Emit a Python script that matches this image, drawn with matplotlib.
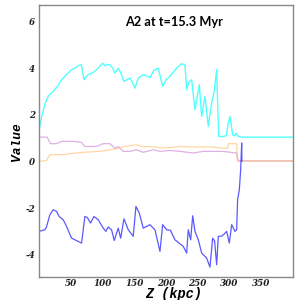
import matplotlib
matplotlib.use("Agg")
import matplotlib.pyplot as plt

# cyan series
cyan_x = [0, 5, 10, 14.7, 17, 22.5, 30, 35.7, 43.6, 51.5, 57, 62, 67, 70.9, 74, 77.6, 85.5, 93.4, 100.3,
          104, 106.6, 111.8, 116, 119.7, 124.9, 129, 133.9, 143.3, 147, 151.2, 156.4, 164.3, 174.8,
          181, 187.9, 194.8, 200, 206.3, 216.8, 224.7, 230, 232.6, 236, 240.5, 245.7, 252.5, 256.2,
          261.4, 266.6, 271.9, 276, 279.8, 283, 290, 295, 298, 300.8, 305, 308, 310.2, 313.9, 320, 400]
cyan_y = [1.29, 2.0, 2.5, 2.79, 2.86, 3.0, 3.25, 3.5, 3.72, 3.93, 4.0, 4.11, 4.14, 3.5, 3.62, 3.72, 3.81,
          4.0, 4.21, 4.1, 4.14, 4.14, 4.0, 3.79, 4.0, 3.8, 3.43, 3.57, 3.4, 3.14, 3.57, 3.72, 3.6,
          3.9, 4.0, 3.21, 3.5, 3.64, 4.0, 4.19, 4.14, 3.07, 3.4, 3.5, 2.21, 3.29, 1.93,
          2.79, 1.5, 2.5, 3.0, 3.93, 1.07, 1.07, 1.1, 1.64, 1.93, 1.14, 1.1, 1.21, 1.07, 1.04, 1.04]

# pink series
pink_x = [0, 13, 18.4, 27.8, 35.7, 54, 67, 72.4, 90.8, 101.3, 111.8, 119.7, 124.9, 132.8, 143.3,
          153.9, 164.3, 180, 190.6, 206.3, 222, 243, 258.7, 290, 311.3, 312.3, 313.9, 400]
pink_y = [1.04, 1.04, 0.76, 0.76, 0.86, 0.86, 0.81, 0.64, 0.64, 0.76, 0.76, 0.57, 0.64, 0.43, 0.43,
          0.5, 0.39, 0.5, 0.43, 0.47, 0.43, 0.36, 0.43, 0.43, 0.36, 0.2, 0.02, 0.02]

# orange series
orange_x = [0, 12, 17.3, 38.3, 55, 69.8, 90, 106.6, 127.6, 135.4, 153.9, 164.3, 174.8, 195.8, 222, 243,
            269, 290, 297, 298, 311.3, 312.3, 400]
orange_y = [0.0, 0.04, 0.29, 0.29, 0.35, 0.39, 0.42, 0.47, 0.57, 0.64, 0.71, 0.62, 0.64, 0.57, 0.64, 0.62,
            0.62, 0.57, 0.57, 0.76, 0.76, 0.02, 0.02]

# blue series
blue_x = [0, 9.4, 12, 17.3, 22.5, 27.8, 31.9, 38.3, 43.6, 51.5, 67.2, 72.4, 76, 81.4, 86.6, 93.4, 101.3,
          105.5, 109.1, 114.4, 118.6, 122.3, 124.9, 128.7, 133.9, 140.7, 148.5, 152.8, 158, 164.3, 174.8,
          182.7, 190.6, 194.8, 201.1, 207, 214.2, 227.2, 232.6, 235.1, 238.9, 242.1, 245.7, 250.9,
          256.2, 264, 269.3, 273.5, 276.5, 279.8, 282.4, 288, 292, 295.6, 299.7, 303.5, 308.7, 311.3,
          312.8, 315.5, 317.6, 319.2, 319.6]
blue_y = [-3.0, -2.93, -2.81, -2.29, -2.07, -2.14, -2.36, -2.5, -2.79, -3.29, -3.5, -2.36, -2.4, -2.64,
          -2.36, -2.5, -2.86, -3.0, -2.81, -2.93, -3.39, -3.07, -2.86, -3.29, -2.46, -2.93, -3.21, -1.93,
          -2.21, -2.86, -2.71, -2.93, -3.86, -2.71, -2.93, -2.95, -3.36, -3.64, -3.93, -2.93, -3.36,
          -2.33, -3.0, -3.36, -3.93, -4.14, -4.53, -3.29, -3.4, -4.43, -3.21, -3.2, -3.1, -3.0, -3.5,
          -2.71, -3.0, -2.93, -1.64, -1.21, -0.36, 0.79, 0.02]

xticks = [50, 100, 150, 200, 250, 300, 350]
yticks = [-4, -2, 0, 2, 4, 6]

fig = plt.figure(figsize=(2.99, 3.0), dpi=100)
ax = fig.add_axes([0.130, 0.077, 0.850, 0.906])

ax.plot(cyan_x, cyan_y, color="#33ffff", lw=1.0, alpha=0.85)
ax.plot(pink_x, pink_y, color="#c77fcf", lw=0.9, alpha=0.6)
ax.plot(orange_x, orange_y, color="#ffbb66", lw=0.9, alpha=0.6)
ax.plot(blue_x, blue_y, color="#2222ff", lw=0.9, alpha=0.75)

ax.set_xlim(0, 400)
ax.set_ylim(-4.95, 6.7)
ax.set_xticks(xticks)
ax.set_yticks(yticks)
ax.set_xticklabels([str(v) for v in xticks])
ax.set_yticklabels([str(v) for v in yticks])
ax.tick_params(axis="x", length=0, pad=1.5)
ax.tick_params(axis="y", length=0, pad=2.5)
for lab in ax.get_xticklabels() + ax.get_yticklabels():
    lab.set_family("DejaVu Serif")
    lab.set_fontweight("bold")
    lab.set_fontstyle("italic")
    lab.set_fontsize(6.3)
    lab.set_color("#222222")
for s in ax.spines.values():
    s.set_color("#888888")
    s.set_linewidth(1.0)

fig.text(173.5 / 299, 1 - 294 / 300, "Z (kpc)", family="Liberation Mono", fontweight="bold",
         fontstyle="italic", fontsize=9.8, ha="center", va="center")
fig.text(17 / 299, 1 - 141.5 / 300, "Value", family="Liberation Mono", fontweight="bold",
         fontstyle="italic", fontsize=9.3, ha="center", va="center", rotation=90)
fig.text(174 / 299, 1 - 22 / 300, "A2 at t=15.3 Myr", family="Lato", fontweight="bold",
         fontsize=9.2, ha="center", va="center", color="black")

fig.savefig("out.png", dpi=100)
